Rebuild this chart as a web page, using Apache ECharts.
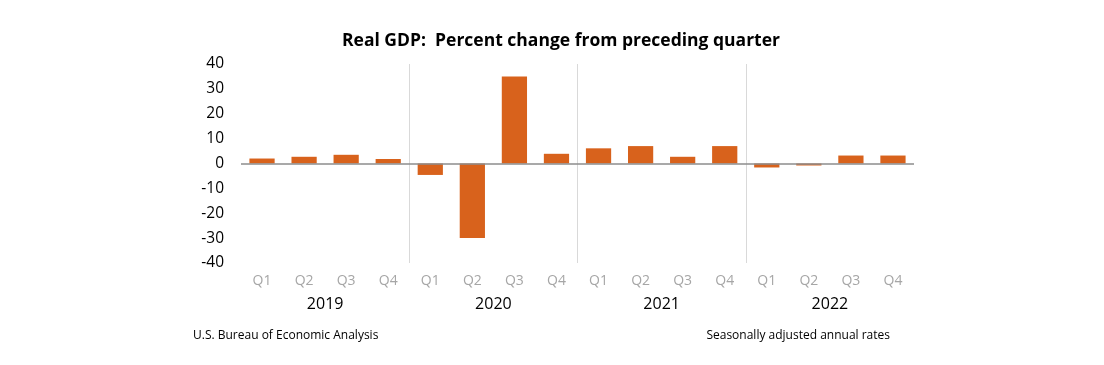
<!DOCTYPE html>
<html>
<head>
<meta charset="utf-8">
<script src="https://cdn.jsdelivr.net/npm/echarts@6/dist/echarts.min.js"></script>
<style>
html,body{margin:0;padding:0;background:#fff;}
#chart{width:1104px;height:365px;}
</style>
</head>
<body>
<div id="chart"></div>
<script>
var quarters = ['Q1','Q2','Q3','Q4','Q1','Q2','Q3','Q4','Q1','Q2','Q3','Q4','Q1','Q2','Q3','Q4'];
var years = ['2019','2020','2021','2022'];
var gdpChange = [2.0, 2.7, 3.5, 1.8, -4.6, -29.9, 35.0, 3.9, 6.1, 7.0, 2.7, 7.0, -1.6, -0.8, 3.2, 3.2];
var titleText = 'Real GDP:  Percent change from preceding quarter';
var sourceText = 'U.S. Bureau of Economic Analysis';
var noteText = 'Seasonally adjusted annual rates';

var FONT = '"Open Sans", sans-serif';
var chart = echarts.init(document.getElementById('chart'));
chart.setOption({
  animation: false,
  backgroundColor: '#ffffff',
  grid: {left: 241, right: 190, top: 64, bottom: 102, containLabel: false},
  graphic: [
    {type: 'text', x: 561, y: 41, style: {text: titleText, fill: '#000', font: 'bold 17.5px ' + FONT, textAlign: 'center', textVerticalAlign: 'middle'}},
    {type: 'text', x: 193, y: 336, style: {text: sourceText, fill: '#000', font: '12px ' + FONT, textAlign: 'left', textVerticalAlign: 'middle'}},
    {type: 'text', x: 890, y: 336, style: {text: noteText, fill: '#000', font: '12px ' + FONT, textAlign: 'right', textVerticalAlign: 'middle'}}
  ],
  xAxis: [
    {
      type: 'category', data: quarters, position: 'bottom',
      axisLine: {show: false}, axisTick: {show: false},
      axisLabel: {color: '#a6a6a6', fontSize: 14, fontFamily: FONT, margin: 11, interval: 0},
      splitLine: {show: false}
    },
    {
      type: 'category', data: years, position: 'bottom', offset: 25,
      axisLine: {show: false}, axisTick: {show: false},
      axisLabel: {color: '#000', fontSize: 16, fontFamily: FONT, margin: 8},
      splitLine: {show: true, showMinLine: false, showMaxLine: false, lineStyle: {color: '#d9d9d9', width: 1}}
    }
  ],
  yAxis: {
    type: 'value', min: -40, max: 40, interval: 10,
    axisLine: {show: false}, axisTick: {show: false}, splitLine: {show: false},
    axisLabel: {color: '#000', fontSize: 15.5, fontFamily: FONT, margin: 17}
  },
  series: [{
    type: 'bar', xAxisIndex: 0, data: gdpChange, barCategoryGap: '40%',
    itemStyle: {color: '#D8621C'},
    markLine: {
      silent: true, symbol: ['none','none'], label: {show: false},
      lineStyle: {color: '#8c8c8c', width: 1.5, type: 'solid'},
      data: [{yAxis: 0}]
    }
  }]
});
</script>
</body>
</html>
